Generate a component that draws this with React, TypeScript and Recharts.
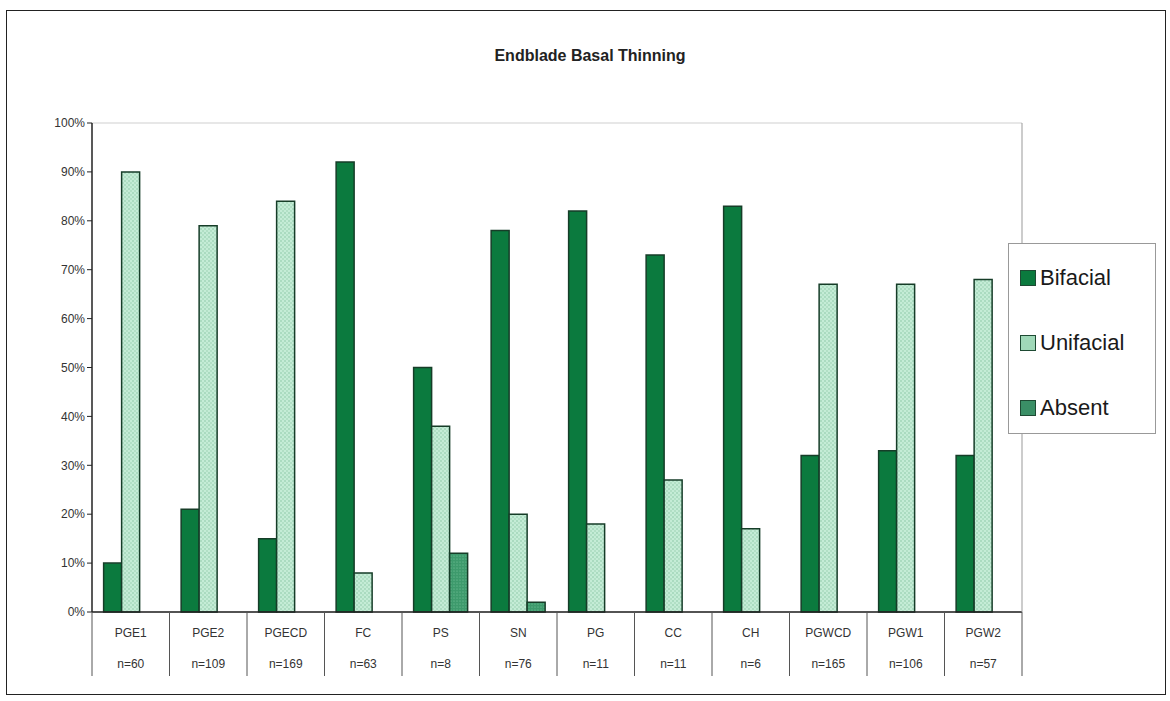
import { BarChart, Bar, XAxis, YAxis, CartesianGrid, Legend } from 'recharts';

const categories = ['PGE1', 'PGE2', 'PGECD', 'FC', 'PS', 'SN', 'PG', 'CC', 'CH', 'PGWCD', 'PGW1', 'PGW2'];
const sampleSizes = ['n=60', 'n=109', 'n=169', 'n=63', 'n=8', 'n=76', 'n=11', 'n=11', 'n=6', 'n=165', 'n=106', 'n=57'];
const bifacial = [10, 21, 15, 92, 50, 78, 82, 73, 83, 32, 33, 32];
const unifacial = [90, 79, 84, 8, 38, 20, 18, 27, 17, 67, 67, 68];
const absent = [0, 0, 0, 0, 12, 2, 0, 0, 0, 0, 0, 0];
const yTicks = [0, 10, 20, 30, 40, 50, 60, 70, 80, 90, 100];

const data = categories.map((c, i) => ({
  category: c,
  n: sampleSizes[i],
  Bifacial: bifacial[i],
  Unifacial: unifacial[i],
  Absent: absent[i],
}));

const W = 1170;
const H = 701;
const PLOT_LEFT = 92;
const PLOT_RIGHT = 1022;
const BAND = (PLOT_RIGHT - PLOT_LEFT) / categories.length;

const series = [
  { key: 'Bifacial', fill: '#0b7a3e' },
  { key: 'Unifacial', fill: 'url(#uniPat)' },
  { key: 'Absent', fill: 'url(#absPat)' },
];

function CategoryTick(props: any) {
  const { x, y, payload, index } = props;
  const top = y - 8;
  const row = data[index];
  return (
    <g>
      <line x1={x - BAND / 2} x2={x - BAND / 2} y1={top} y2={top + 64} stroke="#555" strokeWidth={1} />
      {index === categories.length - 1 && (
        <line x1={x + BAND / 2} x2={x + BAND / 2} y1={top} y2={top + 64} stroke="#555" strokeWidth={1} />
      )}
      <text x={x} y={top + 25} textAnchor="middle" fontSize={12} fill="#333" fontFamily="Arial, Liberation Sans">
        {payload.value}
      </text>
      <text x={x} y={top + 56} textAnchor="middle" fontSize={12} fill="#333" fontFamily="Arial, Liberation Sans">
        {row ? row.n : ''}
      </text>
    </g>
  );
}

function LegendBox() {
  const markerFill: Record<string, string> = { Bifacial: '#0b7a3e', Unifacial: '#9fd8b8', Absent: '#3a8f66' };
  return (
    <div
      style={{
        width: 148,
        height: 191,
        border: '1px solid #999',
        background: '#fff',
        fontFamily: 'Arial, Liberation Sans',
        fontSize: 22,
        color: '#1a1a1a',
        boxSizing: 'border-box',
        paddingTop: 1,
      }}
    >
      {series.map((s) => (
        <div key={s.key} style={{ display: 'flex', alignItems: 'center', height: 65 }}>
          <span
            style={{
              display: 'inline-block',
              width: 16,
              height: 16,
              marginLeft: 11,
              marginRight: 4,
              background: markerFill[s.key],
              border: '1.5px solid #1e4a33',
              boxSizing: 'border-box',
            }}
          />
          {s.key}
        </div>
      ))}
    </div>
  );
}

export default function App() {
  return (
    <div style={{ position: 'absolute', left: 0, top: 0, width: W, height: H, background: '#fff' }}>
      <div
        style={{
          position: 'absolute',
          left: 6,
          top: 10,
          width: 1160,
          height: 685,
          border: '1.5px solid #222',
          boxSizing: 'border-box',
        }}
      />
      <div
        style={{
          position: 'absolute',
          left: 0,
          width: 1180,
          top: 47,
          textAlign: 'center',
          fontFamily: 'Arial, Liberation Sans',
          fontWeight: 'bold',
          fontSize: 16,
          color: '#222',
        }}
      >
        Endblade Basal Thinning
      </div>
      <BarChart
        width={W}
        height={H}
        data={data}
        margin={{ top: 123, right: W - PLOT_RIGHT - 20, left: PLOT_LEFT - 60, bottom: 19 }}
        barCategoryGap="15%"
        barGap={0}
      >
        <defs>
          <pattern id="uniPat" width="4" height="4" patternUnits="userSpaceOnUse">
            <rect width="4" height="4" fill="#c4ecd6" />
            <circle cx="1" cy="1" r="0.7" fill="#7cbf9b" />
            <circle cx="3" cy="3" r="0.7" fill="#8fcaa9" />
          </pattern>
          <pattern id="absPat" width="3" height="3" patternUnits="userSpaceOnUse">
            <rect width="3" height="3" fill="#3d9a6c" />
            <circle cx="1" cy="1" r="0.6" fill="#7cc9a0" />
          </pattern>
        </defs>
        <CartesianGrid vertical={false} stroke="#cfcfcf" />
        <XAxis
          dataKey="category"
          height={70}
          tick={<CategoryTick />}
          tickLine={false}
          axisLine={{ stroke: '#222', strokeWidth: 1.5 }}
          interval={0}
        />
        <YAxis
          yAxisId="left"
          width={60}
          domain={[0, 100]}
          ticks={yTicks}
          tickFormatter={(v: number) => `${v}%`}
          tick={{ fontSize: 12, fill: '#333', fontFamily: 'Arial, Liberation Sans' }}
          tickSize={5}
          tickLine={{ stroke: '#222' }}
          axisLine={{ stroke: '#222', strokeWidth: 1.5 }}
          interval={0}
        />
        <YAxis
          yAxisId="right"
          orientation="right"
          width={20}
          domain={[0, 100]}
          tick={false}
          tickLine={false}
          axisLine={{ stroke: '#999' }}
        />
        <Legend
          layout="horizontal"
          verticalAlign="middle"
          align="center"
          content={<LegendBox />}
          wrapperStyle={{ position: 'absolute', left: 1008, top: 243, width: 148, height: 191 }}
        />
        {series.map((s) => (
          <Bar
            key={s.key}
            yAxisId="left"
            dataKey={s.key}
            fill={s.fill}
            stroke="#163d28"
            strokeWidth={1.5}
            isAnimationActive={false}
          />
        ))}
      </BarChart>
    </div>
  );
}
